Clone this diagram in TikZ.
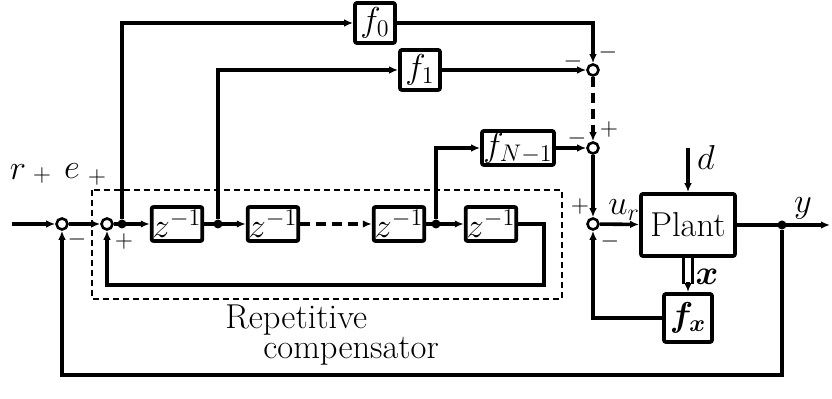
\documentclass[tikz,border=0pt]{standalone}
\usepackage{amsmath, amssymb}
\usepackage{tikz}
\usetikzlibrary{arrows.meta, positioning, calc}

\begin{document}
\begin{tikzpicture}[x=0.5pt, y=-0.5pt,
    blk/.style={rectangle, draw, line width=1.9pt, rounded corners=1pt,
        minimum width=25pt, minimum height=17pt, inner sep=0.5pt, font=\LARGE},
    sumj/.style={circle, draw, line width=1.3pt, fill=white,
        minimum size=5.5pt, inner sep=0pt},
    dot/.style={circle, fill, minimum size=4.5pt, inner sep=0pt},
    arr/.style={-{Latex[length=4.5pt, width=3.8pt]}, line width=1.8pt},
    dbl/.style={double, double distance=3pt, line width=1.3pt},
    sgn/.style={font=\large, inner sep=0pt},
    lbl/.style={font=\LARGE, inner sep=0pt}
]
\useasboundingbox (0,0) rectangle (832,399);
\draw[line width=1.2pt, dash pattern=on 3pt off 2pt] (92,190) rectangle (562,299);

\coordinate (rin) at (12,224);
\node[sumj] (sumE) at (62,224) {};
\node[sumj] (sumR) at (107,224) {};
\node[dot] (b0) at (122,224) {};
\node[blk] (z1) at (177,224) {$z^{-1}$};
\node[dot] (b1) at (218,224) {};
\node[blk] (z2) at (273,224) {$z^{-1}$};
\node[blk] (z3) at (399,224) {$z^{-1}$};
\node[dot] (bN) at (436,224) {};
\node[blk] (z4) at (491,224) {$z^{-1}$};
\node[blk, minimum width=20pt, minimum height=20pt] (f0) at (375,23) {$f_0$};
\node[blk, minimum width=20pt, minimum height=20pt] (f1) at (420,70) {$f_1$};
\node[blk, minimum width=36pt, minimum height=17pt] (fN) at (518,148) {$f_{N-1}$};
\node[sumj] (s0) at (593,70) {};
\node[sumj] (sN) at (593,148) {};
\node[sumj] (su) at (593,224) {};
\node[blk, minimum width=47pt, minimum height=31pt] (plant) at (688,225) {Plant};
\node[blk, minimum width=24pt, minimum height=24pt] (fx) at (688,318) {$\boldsymbol{f_x}$};
\node[dot] (by) at (782,225) {};
\coordinate (yout) at (830,225);
\coordinate (din) at (688,148);

\draw[arr] (rin) -- (sumE);
\draw[arr] (sumE) -- (sumR);
\draw[arr] (sumR) -- (z1);
\draw[arr] (z1) -- (z2);
\draw[arr, dash pattern=on 5pt off 3pt] (z2) -- (z3);
\draw[arr] (z3) -- (z4);
\draw[arr] (z4.east) -| ++(26,61) -| (sumR);
\draw[arr] (b0) |- (f0);
\draw[arr] (b1) |- (f1);
\draw[arr] (bN) |- (fN);
\draw[arr] (f0) -| (s0);
\draw[arr] (f1) -- (s0);
\draw[arr, dash pattern=on 5pt off 3pt] (s0) -- (sN);
\draw[arr] (fN) -- (sN);
\draw[arr] (sN) -- (su);
\draw[arr] (su) -- (plant);
\draw[arr] (din) -- (plant);
\draw[arr] (plant) -- (yout);
\draw[dbl] (plant) -- ($(fx.north)+(0,-8)$);
\draw[arr] ($(fx.north)+(0,-10)$) -- (fx);
\draw[arr] (fx) -| (su);
\draw[arr] (by) -- ++(0,150) -| (sumE);

\node[lbl] (rlbl) at (18,172) {$r$};
\node[lbl] (elbl) at (72,171) {$e$};
\node[lbl] (ulbl) at (624,210) {$u_r$};
\node[lbl] (dlbl) at (706,158) {$d$};
\node[lbl] (xlbl) at (707,277) {$\boldsymbol{x}$};
\node[lbl] (ylbl) at (803,208) {$y$};
\node[sgn] at (42,176) {$+$};
\node[sgn] at (77,240) {$-$};
\node[sgn] at (97,178) {$+$};
\node[sgn] at (124,242) {$+$};
\node[sgn] at (573,62) {$-$};
\node[sgn] at (608,53) {$-$};
\node[sgn] at (577,139) {$-$};
\node[sgn] at (609,130) {$+$};
\node[sgn] at (580,207) {$+$};
\node[sgn] at (610,242) {$-$};
\node[lbl, anchor=north west, align=left] (rcomp) at (225,305)
    {Repetitive\\[-7pt]\hspace*{19pt}compensator};
\end{tikzpicture}
\end{document}
